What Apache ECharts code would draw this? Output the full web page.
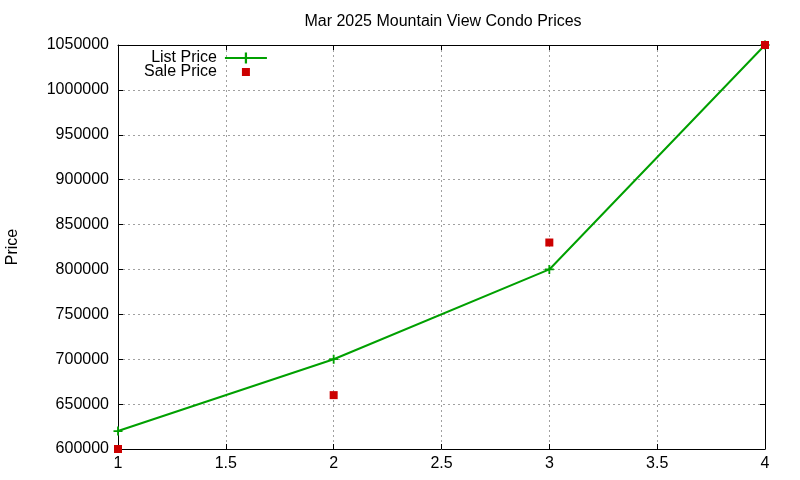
<!DOCTYPE html>
<html><head><meta charset="utf-8">
<script src="https://cdn.jsdelivr.net/npm/echarts@6/dist/echarts.min.js"></script>
<style>html,body{margin:0;padding:0;background:#fff}#c{width:800px;height:480px}</style>
</head><body><div id="c"></div>
<script>
const titleText = 'Mar 2025 Mountain View Condo Prices';
const xValues = [1, 2, 3, 4];
const listPrice = [620000, 700000, 800000, 1050000];
const salePrice = [600000, 660000, 830000, 1050000];
const FONT = '"Liberation Sans", Arial, sans-serif';
const plus = 'path://M4,0H6V4H10V6H6V10H4V6H0V4H4Z';
const chart = echarts.init(document.getElementById('c'));
const axisCommon = {
  axisLine: {show: true, lineStyle: {color: '#000', width: 1}},
  axisTick: {show: true, inside: true, length: 5, lineStyle: {color: '#000'}},
};
const gridLine = {show: true, lineStyle: {color: '#a0a0a0', type: [2, 3]}};
chart.setOption({
  animation: false,
  backgroundColor: '#fff',
  title: {text: titleText, left: 438, top: 9, textAlign: 'center',
    textStyle: {fontFamily: FONT, fontSize: 16, fontWeight: 'normal', color: '#000'}},
  grid: {left: 118, right: 35, top: 45, bottom: 31, outerBoundsMode: 'none', containLabel: false},
  legend: {
    orient: 'vertical', align: 'right', left: 139, top: 45, itemGap: -2,
    itemWidth: 42, itemHeight: 14, symbolKeepAspect: true,
    textStyle: {fontFamily: FONT, fontSize: 16, color: '#000', padding: [0, 3, 0, 0]},
    data: [{name: 'List Price'}, {name: 'Sale Price', icon: 'path://M0,0M14,14M3,3H11V11H3Z'}]
  },
  xAxis: [
    Object.assign({type: 'value', min: 1, max: 4, interval: 0.5, position: 'bottom',
      axisLabel: {fontFamily: FONT, fontSize: 16, color: '#000', margin: 7},
      splitLine: gridLine}, axisCommon),
    Object.assign({type: 'value', min: 1, max: 4, interval: 0.5, position: 'top',
      axisLabel: {show: false}, splitLine: {show: false}}, axisCommon)
  ],
  yAxis: [
    Object.assign({type: 'value', min: 600000, max: 1050000, interval: 50000, position: 'left',
      name: 'Price', nameLocation: 'middle', nameGap: 97, nameRotate: 90,
      nameTextStyle: {fontFamily: FONT, fontSize: 16, color: '#000'},
      axisLabel: {fontFamily: FONT, fontSize: 16, color: '#000', margin: 9, formatter: v => String(v)},
      splitLine: gridLine}, axisCommon),
    Object.assign({type: 'value', min: 600000, max: 1050000, interval: 50000, position: 'right',
      axisLabel: {show: false}, splitLine: {show: false}}, axisCommon)
  ],
  series: [
    {name: 'List Price', type: 'line', data: xValues.map((x, i) => [x, listPrice[i]]),
      symbol: plus, symbolSize: 9, showSymbol: true,
      lineStyle: {color: '#00a000', width: 2}, itemStyle: {color: '#00a000'}, z: 3},
    {name: 'Sale Price', type: 'scatter', data: xValues.map((x, i) => [x, salePrice[i]]),
      symbol: 'rect', symbolSize: 8, itemStyle: {color: '#cc0000', opacity: 1}, z: 4}
  ]
});
</script></body></html>
